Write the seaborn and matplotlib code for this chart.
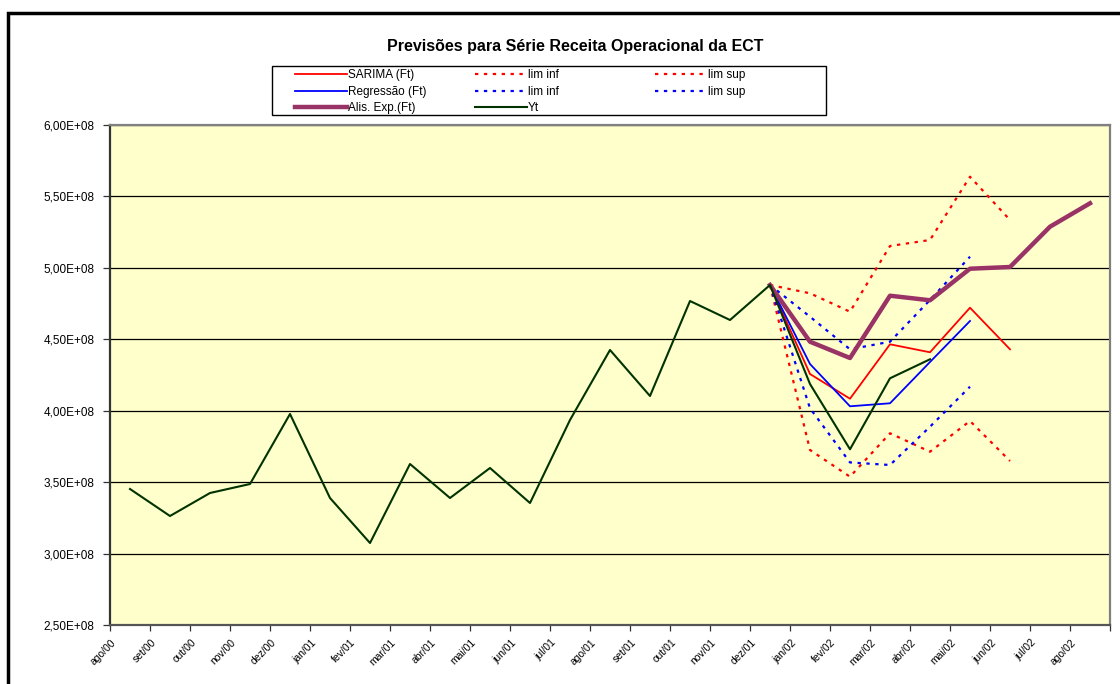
import numpy as np
import pandas as pd
import seaborn as sns
import matplotlib.pyplot as plt
import matplotlib.patches as mpatches
from matplotlib.ticker import FuncFormatter

# DATA (valores em milhoes)
meses = ["ago/00", "set/00", "out/00", "nov/00", "dez/00", "jan/01", "fev/01",
         "mar/01", "abr/01", "mai/01", "jun/01", "jul/01", "ago/01", "set/01",
         "out/01", "nov/01", "dez/01", "jan/02", "fev/02", "mar/02", "abr/02",
         "mai/02", "jun/02", "jul/02", "ago/02"]

yt = [345.2, 326.3, 342.4, 348.7, 397.7, 338.9, 307.4, 362.7, 338.9, 359.9,
      335.4, 393.5, 442.5, 410.3, 476.8, 463.5, 488.0, 418.7, 373.0, 422.7,
      436.0]

# previsoes a partir de dez/01
sarima = [488.0, 425.7, 408.4, 446.5, 440.9, 472.1, 443.0]
sarima_inf = [488.0, 372.5, 353.8, 384.2, 371.3, 392.8, 364.8]
sarima_sup = [488.0, 482.2, 469.3, 515.3, 519.5, 563.8, 533.5]
regressao = [488.0, 432.7, 403.1, 405.2, 434.1, 462.8]
regressao_inf = [488.0, 401.7, 363.8, 362.0, 388.8, 416.8]
regressao_sup = [488.0, 465.8, 443.0, 448.3, 477.5, 507.8]
alis_exp = [488.0, 448.3, 436.9, 480.5, 477.3, 499.4, 500.6, 528.8, 545.2]
inicio_prev = meses.index("dez/01")

pont = (0, (1.5, 2.5))
series = [
    ("SARIMA (Ft)", sarima, inicio_prev, "#FF0000", "-", 1.3),
    ("lim inf r", sarima_inf, inicio_prev, "#FF0000", pont, 1.6),
    ("lim sup r", sarima_sup, inicio_prev, "#FF0000", pont, 1.6),
    ("Regressão (Ft)", regressao, inicio_prev, "#0000FF", "-", 1.3),
    ("lim inf b", regressao_inf, inicio_prev, "#0000FF", pont, 1.6),
    ("lim sup b", regressao_sup, inicio_prev, "#0000FF", pont, 1.6),
    ("Alis. Exp.(Ft)", alis_exp, inicio_prev, "#993366", "-", 3.2),
    ("Yt", yt, 0, "#003300", "-", 1.5),
]

plt.rcParams["font.family"] = ["Liberation Sans", "DejaVu Sans"]

fig = plt.figure(figsize=(11.2, 6.84), dpi=100)
ax = fig.add_axes([110 / 1120, 59 / 684, 1000 / 1120, 500 / 684])
ax.set_facecolor("#FFFFCC")

handles = {}
for nome, vals, ini, cor, ls, lw in series:
    df = pd.DataFrame({"x": np.arange(ini, ini + len(vals)),
                       "y": np.array(vals) * 1e6})
    sns.lineplot(data=df, x="x", y="y", ax=ax, color=cor, linestyle=ls,
                 linewidth=lw, estimator=None, legend=False)
    handles[nome] = ax.lines[-1]

ax.set_xlim(-0.5, len(meses) - 0.5)
ax.set_ylim(2.5e8, 6.0e8)
ax.set_yticks(np.arange(2.5e8, 6.01e8, 0.5e8))
ax.yaxis.set_major_formatter(FuncFormatter(
    lambda v, p: f"{v / 1e8:.2f}".replace(".", ",") + "E+08"))
ax.grid(axis="y", color="black", linewidth=0.9)
ax.set_axisbelow(True)
ax.tick_params(axis="y", length=5, width=0.9, labelsize=8.5, pad=6,
               color="#333333")

# marcas entre categorias, rotulos deslocados como no Excel
ax.set_xticks(np.arange(len(meses) + 1) - 0.5, minor=True)
ax.set_xticks(np.arange(len(meses)) - 0.48, meses)
ax.tick_params(axis="x", which="minor", length=4, width=0.9, color="#333333")
ax.tick_params(axis="x", which="major", length=0, labelsize=7.5, pad=9)
for lab in ax.get_xticklabels():
    lab.set_rotation(45)
    lab.set_ha("right")
    lab.set_va("top")
    lab.set_rotation_mode("anchor")
ax.set_xlabel("")
ax.set_ylabel("")
for s in ax.spines.values():
    s.set_color("#808080")
    s.set_linewidth(1.6)
ax.spines["left"].set_color("#333333")
ax.spines["bottom"].set_color("#555555")

fig.text(575 / 1120, 1 - 47 / 684, "Previsões para Série Receita Operacional da ECT",
         ha="center", va="center", fontsize=11.5, fontweight="bold")

# legenda: tres colunas posicionadas como no Excel
colunas = [
    (["SARIMA (Ft)", "Regressão (Ft)", "Alis. Exp.(Ft)"], 295),
    (["lim inf r", "lim inf b", "Yt"], 475),
    (["lim sup r", "lim sup b"], 655),
]
for nomes, x0 in colunas:
    fig.legend([handles[k] for k in nomes],
               [k.replace(" r", "").replace(" b", "") for k in nomes],
               loc="upper left", bbox_to_anchor=(x0 / 1120, 1 - 69 / 684),
               borderaxespad=0, borderpad=0, frameon=False, fontsize=8.5,
               handlelength=4.4, handletextpad=0.1, labelspacing=0.4)
fig.patches.append(mpatches.Rectangle((272 / 1120, 1 - 115 / 684), 554 / 1120,
                                      49 / 684, transform=fig.transFigure,
                                      fill=False, edgecolor="black",
                                      linewidth=1.0))

fig.patches.append(mpatches.Rectangle((8 / 1120, -0.05), 1.2, 1 - 13 / 684 + 0.05,
                                      transform=fig.transFigure, fill=False,
                                      edgecolor="black", linewidth=2.5))

fig.savefig("out.png", dpi=100, facecolor="white")
